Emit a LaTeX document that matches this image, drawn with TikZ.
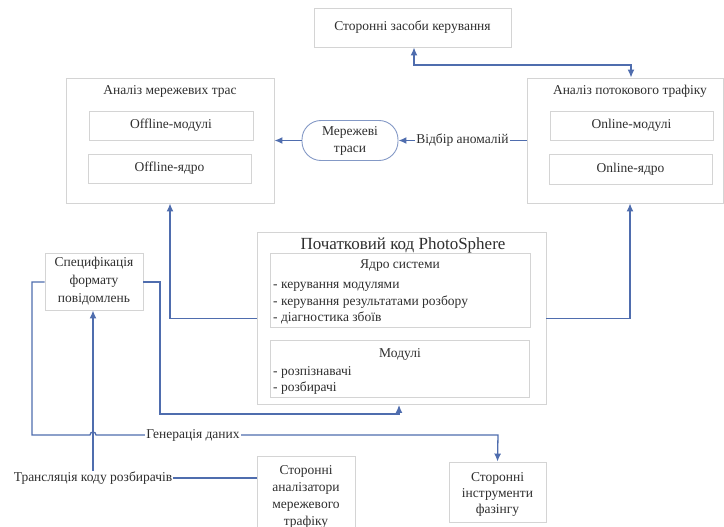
\documentclass[tikz,border=0pt]{standalone}
\usepackage{fontspec}
\setmainfont{Liberation Serif}
\usetikzlibrary{arrows.meta,calc}
\definecolor{boxgray}{HTML}{D4D4D4}
\definecolor{linkblue}{HTML}{4F6DAE}
\definecolor{txt}{HTML}{2E2E2E}
\tikzset{
  box/.style={draw=boxgray, line width=0.9pt, rectangle, inner sep=0pt, text=txt, font=\fontsize{13.5}{18}\selectfont, align=center},
  lbl/.style={text=txt, font=\fontsize{13.5}{18}\selectfont, inner sep=1pt},
  tip/.tip={Latex[length=8pt,width=7pt]},
  link/.style={draw=linkblue, line width=1.3pt, -tip},
  term/.style={draw=linkblue!70, line width=0.9pt, rounded corners=19pt, text=txt, font=\fontsize{13.5}{17}\selectfont, align=center, inner sep=0pt},
}
\begin{document}
\begin{tikzpicture}[x=1pt,y=-1pt]
\useasboundingbox (0,0) rectangle (724,527);
% top
\node[box, minimum width=197, minimum height=39] (top) at (412.5,27.5) {Сторонні засоби керування};
% left analysis
\node[box, minimum width=208, minimum height=125] (lbox) at (170,140.5) {};
\node[lbl] (ltitle) at (170,91) {Аналіз мережевих трас};
\node[box, minimum width=164, minimum height=29] (offmod) at (171,125.5) {Offline-модулі};
\node[box, minimum width=163, minimum height=29] (offcore) at (169.5,168.5) {Offline-ядро};
% right analysis
\node[box, minimum width=196, minimum height=125] (rbox) at (625,140.5) {};
\node[lbl] (rtitle) at (630,91) {Аналіз потокового трафіку};
\node[box, minimum width=163, minimum height=29] (onmod) at (631.5,125.5) {Online-модулі};
\node[box, minimum width=163, minimum height=30] (oncore) at (630.5,169) {Online-ядро};
% traces
\node[term, minimum width=96, minimum height=40] (traces) at (350,140.5) {Мережеві\\траси};
% center
\node[box, minimum width=289, minimum height=172] (center) at (401.5,318.5) {};
\node[lbl, font=\fontsize{17}{20}\selectfont] (ctitle) at (403,245) {Початковий код PhotoSphere};
\node[box, minimum width=260, minimum height=74] (core) at (400,290) {};
\node[lbl] (coret) at (400,266) {Ядро системи};
\node[lbl, anchor=north west, align=left, font=\fontsize{13.5}{16.5}\selectfont] (corel) at (272,281) {- керування модулями\\- керування результатами розбору\\- діагностика збоїв};
\node[box, minimum width=259, minimum height=57] (mods) at (399.5,368.5) {};
\node[lbl] (modst) at (400,354) {Модулі};
\node[lbl, anchor=north west, align=left, font=\fontsize{13.5}{16.5}\selectfont] (modsl) at (272,365) {- розпізнавачі\\- розбирачі};
% spec
\node[box, minimum width=98, minimum height=57] (spec) at (94,281.5) {Специфікація\\формату\\повідомлень};
% third-party analyzers
\node[box, minimum width=98, minimum height=71] (an) at (306,491.5) {};
\node[lbl, align=center, font=\fontsize{13.5}{17}\selectfont] (ant) at (306,497) {Сторонні\\аналізатори\\мережевого\\трафіку};
% fuzz
\node[box, minimum width=97, minimum height=60] (fuzz) at (497.5,492) {};
\node[lbl, align=center, font=\fontsize{13.5}{16}\selectfont] (fuzzt) at (497.5,494) {Сторонні\\інструменти\\фазінгу};
% coordinates
\coordinate (j1) at (414,65);
\coordinate (sl) at (32,282);
\coordinate (sb) at (32,435);
\coordinate (hop) at (90,435);
\coordinate (gr) at (498,435);
\coordinate (sr) at (160,282);
\coordinate (srb) at (160,414);
% connectors
\draw[link, tip-tip] ([xshift=1.5pt]top.south) -- ([xshift=1.5pt]top.south |- j1) -| ([xshift=6pt]rbox.north);
\draw[link] (rbox.west) -- node[lbl, fill=white] (sel) {Відбір аномалій} (traces.east);
\draw[link] (traces.west) -- (lbox.east);
\draw[link] (center.west) -| (lbox.south);
\draw[link] (center.east) -| ([xshift=5pt]rbox.south);
\draw[link] (spec.west |- sl) -- (sl) -- (sb) -- (hop) arc[start angle=180, end angle=360, radius=3] -- (gr) -- (fuzz.north);
\node[lbl, fill=white] (gen) at (193,435) {Генерація даних};
\draw[link] (spec.east |- sr) -- (sr) -- (srb) -| ([xshift=-2.5pt]center.south);
\draw[link] ([yshift=13.5pt]an.west) -| node[pos=0.5, lbl, fill=white] (trans) {Трансляція коду розбирачів} ([xshift=-1pt]spec.south);
\end{tikzpicture}
\end{document}
